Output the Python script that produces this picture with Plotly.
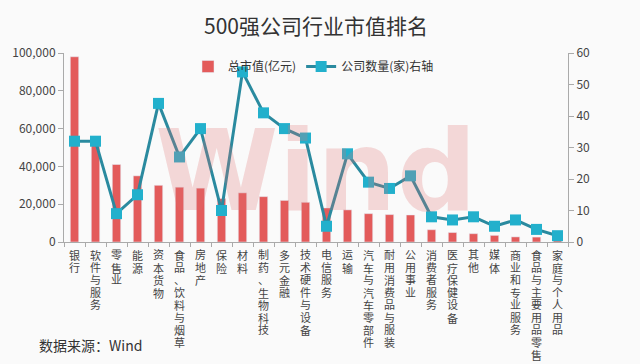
import plotly.graph_objects as go

categories = ["银行", "软件与服务", "零售业", "能源", "资本货物", "食品、饮料与烟草", "房地产", "保险",
              "材料", "制药、生物科技", "多元金融", "技术硬件与设备", "电信服务", "运输", "汽车与汽车零部件",
              "耐用消费品与服装", "公用事业", "消费者服务", "医疗保健设备", "其他", "媒体", "商业和专业服务",
              "食品与主要用品零售", "家庭与个人用品"]
market_value = [98000, 52000, 41000, 35000, 30000, 29000, 28500, 23000, 26000, 24000, 22000, 21000,
                18000, 17000, 15000, 14500, 14300, 6500, 5000, 4400, 3500, 2700, 2600, 1500]
company_count = [32, 32, 9, 15, 44, 27, 36, 10, 54, 41, 36, 33, 5, 28, 19, 17, 21, 8, 7, 8, 5, 7, 4, 2]
left_ticks = [0, 20000, 40000, 60000, 80000, 100000]
right_ticks = [0, 10, 20, 30, 40, 50, 60]

font_family = "Noto Sans CJK SC, Noto Sans, sans-serif"
label_family = "Liberation Sans, Noto Sans CJK SC, sans-serif"

# plot area in pixels
L, R, T, B = 64, 568, 53, 242
W, H = 640, 364

def px_to_paper(x, y):
    return (x - L) / (R - L), (B - y) / (B - T)

fig = go.Figure()
fig.add_trace(go.Bar(
    x=categories, y=market_value, name="总市值(亿元)",
    marker=dict(color="#E35B5B"), width=0.4, yaxis="y"))
fig.add_trace(go.Scatter(
    x=categories, y=company_count, name="公司数量(家)右轴", yaxis="y2",
    mode="lines+markers",
    line=dict(color="#2A8A9F", width=3),
    marker=dict(symbol="square", size=11, color="#22B0CC")))

lx, ly = px_to_paper(188, 52)

fig.update_layout(
    width=W, height=H,
    margin=dict(l=L, r=W - R, t=T, b=H - B, autoexpand=False),
    paper_bgcolor="#FAFAFA", plot_bgcolor="#FAFAFA",
    font=dict(family=font_family, color="#444444"),
    title=dict(text="500强公司行业市值排名", x=0.5, xref="paper", xanchor="center",
               y=1 - 27 / H, yref="container", yanchor="middle",
               font=dict(size=21, color="#333333", family=font_family)),
    showlegend=True,
    legend=dict(orientation="h", x=lx, y=ly, xanchor="left", yanchor="top",
                bgcolor="rgba(0,0,0,0)", font=dict(size=12, color="#333333"),
                itemwidth=30, tracegroupgap=0),
    xaxis=dict(type="category", tickmode="array", tickvals=categories, showticklabels=False,
               automargin=False,
               showline=True, linecolor="#AAAAAA", linewidth=1,
               ticks="outside", ticklen=4, tickcolor="#AAAAAA", tickson="boundaries",
               showgrid=False, range=[-0.5, len(categories) - 0.5]),
    yaxis=dict(range=[0, 100000], tickvals=left_ticks, tickformat=",", automargin=False,
               tickfont=dict(size=12, color="#444444"),
               showline=True, linecolor="#AAAAAA", ticks="outside", ticklen=5, tickcolor="#AAAAAA",
               showgrid=False, zeroline=False),
    yaxis2=dict(range=[0, 60], tickvals=right_ticks, overlaying="y", side="right", automargin=False,
                tickfont=dict(size=12, color="#444444"),
                showline=True, linecolor="#AAAAAA", ticks="outside", ticklen=5, tickcolor="#AAAAAA",
                showgrid=False, zeroline=False),
)

# vertical (top-to-bottom) category labels, one character per line
for cat in categories:
    for j, ch in enumerate(cat):
        fig.add_annotation(text=ch, xref="x", yref="paper", x=cat, y=0,
                           xanchor="center", yanchor="middle", yshift=-(13 + 12.5 * j),
                           height=12, width=13, borderpad=0,
                           showarrow=False, font=dict(size=11, color="#444444", family=label_family))

wx, wy = px_to_paper(316, 171)
fig.add_annotation(text="Wind", xref="paper", yref="paper", x=wx, y=wy,
                   xanchor="center", yanchor="middle", showarrow=False,
                   font=dict(size=112, color="rgba(225,110,110,0.25)",
                             family="DejaVu Sans", weight="bold"))
sx, sy = px_to_paper(37, 345)
fig.add_annotation(text="数据来源：Wind", xref="paper", yref="paper", x=sx, y=sy,
                   xanchor="left", yanchor="middle", showarrow=False,
                   font=dict(size=14, color="#333333", family=font_family))

fig.write_html("out.html", config={"displayModeBar": False},
               post_script="document.body.style.margin='0px';")
